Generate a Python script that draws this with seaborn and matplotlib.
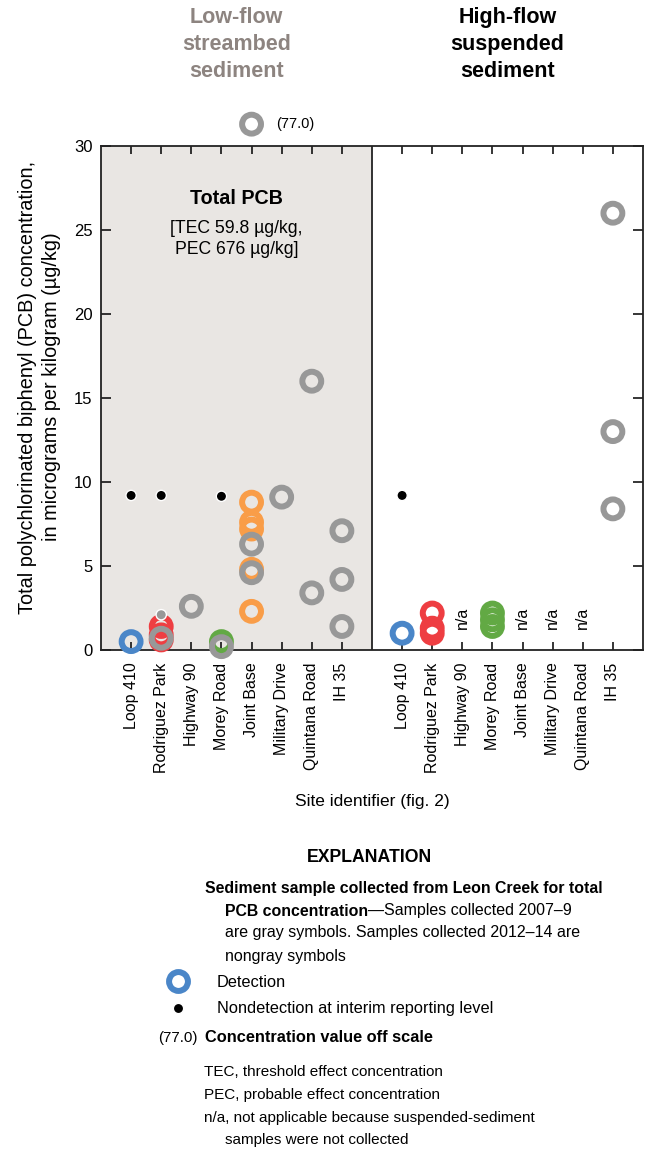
import numpy as np
import pandas as pd
import seaborn as sns
import matplotlib.pyplot as plt
from matplotlib.lines import Line2D
from matplotlib.transforms import blended_transform_factory

W, H = 648, 1151

SITES = ["Loop 410", "Rodriguez Park", "Highway 90", "Morey Road",
         "Joint Base", "Military Drive", "Quintana Road", "IH 35"]

# Low-flow streambed sediment, detections (colored = 2012-14, gray = 2007-9)
low_site = ["Loop 410", "Rodriguez Park", "Rodriguez Park", "Rodriguez Park",
            "Morey Road", "Joint Base", "Joint Base", "Joint Base", "Joint Base",
            "Joint Base",
            "Rodriguez Park", "Highway 90", "Morey Road", "Joint Base",
            "Joint Base", "Joint Base", "Military Drive", "Quintana Road",
            "Quintana Road", "IH 35", "IH 35", "IH 35"]
low_value = [0.5, 1.4, 0.9, 0.6, 0.5, 8.8, 7.6, 7.2, 4.8, 2.3,
             0.7, 2.6, 0.2, 6.3, 4.6, 77.0, 9.1, 16.0, 3.4, 7.1, 4.2, 1.4]
low_period = ["2012-14"] * 10 + ["2007-9"] * 12

# Low-flow nondetections at interim reporting level
low_nd_site = ["Loop 410", "Rodriguez Park", "Morey Road", "Rodriguez Park"]
low_nd_value = [9.2, 9.2, 9.15, 2.1]
low_nd_period = ["2012-14", "2012-14", "2012-14", "2007-9"]

# High-flow suspended sediment, detections
high_site = ["Loop 410", "Rodriguez Park", "Rodriguez Park", "Rodriguez Park",
             "Morey Road", "Morey Road", "Morey Road", "IH 35", "IH 35", "IH 35"]
high_value = [1.0, 2.2, 1.3, 1.0, 2.2, 1.8, 1.4, 26.0, 13.0, 8.4]
high_period = ["2012-14"] * 7 + ["2007-9"] * 3

high_nd_site = ["Loop 410"]
high_nd_value = [9.2]
high_nd_period = ["2012-14"]

na_sites = ["Highway 90", "Joint Base", "Military Drive", "Quintana Road"]

YMAX = 30
OFF_SCALE_Y = 31.3

BLUE = "#4a86c8"
RED = "#ee3e42"
GREEN = "#62a944"
ORANGE = "#f99d48"
GRAY = "#989898"
BG = "#e9e6e3"
TITLE_GRAY = "#8d8480"
PALETTE = {"Loop 410": BLUE, "Rodriguez Park": RED, "Morey Road": GREEN,
           "Joint Base": ORANGE, "2007-9": GRAY}


def build(sites, values, periods, offset):
    df = pd.DataFrame({"site": sites, "value": values, "period": periods})
    df["xpos"] = df["site"].map(lambda s: SITES.index(s) + 1 + offset)
    df["yplot"] = np.where(df["value"] > YMAX, OFF_SCALE_Y, df["value"])
    df["key"] = np.where(df["period"] == "2007-9", "2007-9", df["site"])
    return df


det = pd.concat([build(low_site, low_value, low_period, 0),
                 build(high_site, high_value, high_period, 9)])
# gray symbols drawn on top of colored ones
det = det.sort_values("period", key=lambda s: s == "2007-9", kind="stable")
nd = pd.concat([build(low_nd_site, low_nd_value, low_nd_period, 0),
                build(high_nd_site, high_nd_value, high_nd_period, 9)])

sns.set_theme(style="ticks")
plt.rcParams["font.family"] = ["Liberation Sans", "DejaVu Sans"]
plt.rcParams["axes.edgecolor"] = "#222222"
for k in ["text.color", "axes.labelcolor", "xtick.color", "ytick.color"]:
    plt.rcParams[k] = "black"

fig = plt.figure(figsize=(W / 100, H / 100), dpi=100)
ax = fig.add_axes([101 / W, 1 - 650 / H, 542 / W, 504 / H])

ax.axvspan(0, 9, color=BG, lw=0, zorder=0)
ax.axvline(9, color="#222222", lw=1.3, zorder=1)

sns.scatterplot(data=det, x="xpos", y="yplot", hue="key", palette=PALETTE,
                s=185, linewidth=4.3, edgecolor="none", legend=False,
                clip_on=False, zorder=3, ax=ax)
rings = ax.collections[-1]
rings.set_edgecolors(rings.get_facecolors())
rings.set_facecolors("none")

sns.scatterplot(data=nd, x="xpos", y="yplot", hue="period",
                palette={"2012-14": "black", "2007-9": GRAY},
                s=55, linewidth=1, edgecolor="white", legend=False,
                clip_on=False, zorder=4, ax=ax)

for _, r in det[det["value"] > YMAX].iterrows():
    ax.text(r["xpos"] + 0.8, r["yplot"], f"({r['value']:.1f})", fontsize=10.5,
            va="center", ha="left", clip_on=False)

for s in na_sites:
    ax.text(SITES.index(s) + 10, 1.25, "n/a", rotation=90, fontsize=11.5,
            ha="center", va="bottom")

ax.text(4.5, 26.9, "Total PCB", fontsize=14.2, fontweight="bold",
        ha="center", va="center")
ax.text(4.5, 24.45, "[TEC 59.8 µg/kg,\nPEC 676 µg/kg]", fontsize=12.7,
        ha="center", va="center", linespacing=1.3)

ax.set_xlim(0, 18)
ax.set_ylim(0, YMAX)
ax.set_xticks(list(range(1, 9)) + list(range(10, 18)))
ax.set_xticklabels(SITES + SITES, rotation=90, fontsize=11.5)
ax.set_yticks(range(0, 31, 5))
ax.tick_params(axis="x", direction="in", top=True, length=6, width=1.1, pad=9)
ax.tick_params(axis="y", direction="in", right=True, length=7, width=1.1,
               pad=6, labelsize=12)
for sp in ax.spines.values():
    sp.set_visible(True)
    sp.set_linewidth(1.3)
ax.set_xlabel("Site identifier (fig. 2)", fontsize=12.5, labelpad=15.5)
ax.set_ylabel("Total polychlorinated biphenyl (PCB) concentration,\n"
              "in micrograms per kilogram (µg/kg)", fontsize=14.3,
              linespacing=1.33)
ax.yaxis.set_label_coords(-(101 - 61) / 542, (650 - 387) / 504)

top = blended_transform_factory(ax.transData, fig.transFigure)
ax.text(4.5, 1 - 7 / H, "Low-flow\nstreambed\nsediment", transform=top,
        fontsize=15.5, fontweight="bold", color=TITLE_GRAY, ha="center",
        va="top", linespacing=1.38)
ax.text(13.5, 1 - 7 / H, "High-flow\nsuspended\nsediment", transform=top,
        fontsize=15.5, fontweight="bold", color="black", ha="center",
        va="top", linespacing=1.38)


# Explanation
def ft(px, py, s, **kw):
    kw.setdefault("fontsize", 11.5)
    kw.setdefault("va", "center")
    return fig.text(px / W, 1 - py / H, s, **kw)


ft(370, 858, "EXPLANATION", fontsize=12.7, fontweight="bold", ha="center")
ft(205, 888, "Sediment sample collected from Leon Creek for total",
   fontweight="bold", fontsize=11.4)
t = ft(225, 911, "PCB concentration", fontweight="bold", fontsize=11.4)
fig.canvas.draw()
bb = t.get_window_extent()
ft(bb.x1, 911, "\u2014Samples collected 2007\u20139")
ft(225, 933, "are gray symbols. Samples collected 2012\u201314 are")
ft(225, 956, "nongray symbols")

handles = [Line2D([], [], marker="o", ls="", markersize=13.6, mfc="none",
                  mec=BLUE, mew=4.3),
           Line2D([], [], marker="o", ls="", markersize=7.4, mfc="black",
                  mec="white", mew=1)]
fig.legend(handles, ["Detection", "Nondetection at interim reporting level"],
           loc="upper left", bbox_to_anchor=(166 / W, 1 - 975 / H),
           frameon=False, fontsize=11.8, handlelength=1.5, handletextpad=1.6,
           labelspacing=0.7, borderpad=0, borderaxespad=0)

ft(158, 1038, "(77.0)", fontsize=10.8)
ft(205, 1038, "Concentration value off scale", fontweight="bold",
   fontsize=11.8)
ft(204, 1072, "TEC, threshold effect concentration", fontsize=11)
ft(204, 1095, "PEC, probable effect concentration", fontsize=11)
ft(204, 1118, "n/a, not applicable because suspended-sediment", fontsize=11)
ft(225, 1140, "samples were not collected", fontsize=11)

fig.savefig("out.png", dpi=100)
